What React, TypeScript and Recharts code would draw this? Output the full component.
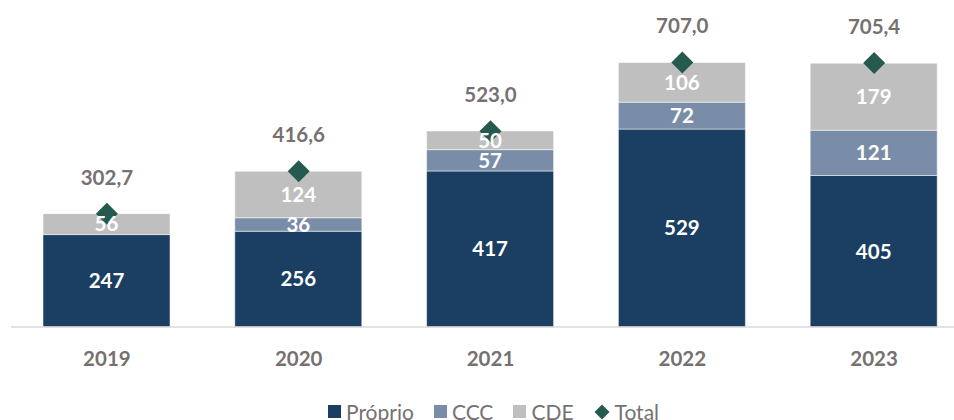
import { Bar, ComposedChart, LabelList, Legend, Line, XAxis, YAxis } from "recharts";

const years = ["2019", "2020", "2021", "2022", "2023"];
const proprio = [247, 256, 417, 529, 405];
const ccc = [0, 36, 57, 72, 121];
const cde = [56, 124, 50, 106, 179];
const total = [302.7, 416.6, 523.0, 707.0, 705.4];

const COLORS = {
  proprio: "#1B3F62",
  ccc: "#7A8DA8",
  cde: "#BFBFBF",
  total: "#275A4E",
  text: "#767171",
};

const data = years.map((year, i) => ({
  year,
  proprio: proprio[i],
  ccc: ccc[i],
  cde: cde[i],
  total: total[i],
}));

function Diamond(props: any) {
  const { cx, cy } = props;
  if (cx == null || cy == null) return null;
  const r = 11;
  return (
    <polygon
      points={`${cx},${cy - r} ${cx + r},${cy} ${cx},${cy + r} ${cx - r},${cy}`}
      fill={COLORS.total}
    />
  );
}

const legendItems = [
  { label: "Próprio", color: COLORS.proprio, shape: "square" },
  { label: "CCC", color: COLORS.ccc, shape: "square" },
  { label: "CDE", color: COLORS.cde, shape: "square" },
  { label: "Total", color: COLORS.total, shape: "diamond" },
];

function ChartLegend() {
  return (
    <div style={{ display: "flex", alignItems: "center", paddingLeft: 328, marginTop: 4, height: 25 }}>
      {legendItems.map((it) => (
        <div key={it.label} style={{ display: "flex", alignItems: "center", marginRight: 20 }}>
          {it.shape === "square" ? (
            <svg width={13} height={13} style={{ marginRight: 5 }}>
              <rect width={13} height={13} fill={it.color} />
            </svg>
          ) : (
            <svg width={16} height={16} style={{ marginRight: 5 }}>
              <polygon points="8,0.5 15.5,8 8,15.5 0.5,8" fill={it.color} />
            </svg>
          )}
          <span style={{ fontSize: 21, color: COLORS.text, lineHeight: "25px" }}>{it.label}</span>
        </div>
      ))}
    </div>
  );
}

const segLabel = { fill: "#ffffff", fontSize: 20.5, fontWeight: 700 };
const keys = ["proprio", "ccc", "cde"] as const;

export default function App() {
  return (
    <div
      style={{
        position: "absolute",
        left: 0,
        top: 0,
        width: 954,
        height: 420,
        overflow: "hidden",
        background: "#fff",
        fontFamily: "Lato, sans-serif",
      }}
    >
      <ComposedChart
        width={975}
        height={420}
        data={data}
        margin={{ top: 9, right: 5, left: 11, bottom: 0 }}
      >
        <XAxis
          dataKey="year"
          axisLine={{ stroke: "#D9D9D9", strokeWidth: 1.5 }}
          tickLine={false}
          tickMargin={18}
          height={68}
          tick={{ fill: COLORS.text, fontSize: 20.5, fontWeight: 700 }}
        />
        {/* second, hidden axis so the label layer can sit above the diamonds */}
        <XAxis xAxisId="labels" dataKey="year" hide height={68} />
        <YAxis hide domain={[0, 850]} />
        {keys.map((k) => (
          <Bar
            key={k}
            dataKey={k}
            stackId="a"
            fill={COLORS[k]}
            stroke="#ffffff"
            strokeWidth={0.5}
            barSize={127}
            isAnimationActive={false}
          />
        ))}
        <Line
          dataKey="total"
          stroke="none"
          dot={<Diamond />}
          activeDot={false}
          isAnimationActive={false}
        >
          <LabelList
            dataKey="total"
            position="top"
            offset={29}
            fill={COLORS.text}
            fontSize={20.5}
            fontWeight={700}
            formatter={(v: any) => Number(v).toFixed(1).replace(".", ",")}
          />
        </Line>
        {keys.map((k) => (
          <Bar
            key={`lbl-${k}`}
            xAxisId="labels"
            dataKey={k}
            stackId="lbl"
            fill="transparent"
            barSize={127}
            isAnimationActive={false}
          >
            <LabelList
              dataKey={k}
              position="center"
              {...segLabel}
              formatter={(v: any) => (v === 0 ? "-" : v)}
            />
          </Bar>
        ))}
        <Legend
          verticalAlign="bottom"
          content={<ChartLegend />}
          wrapperStyle={{ left: 0, width: 954, height: 25, bottom: 0 }}
        />
      </ComposedChart>
    </div>
  );
}
